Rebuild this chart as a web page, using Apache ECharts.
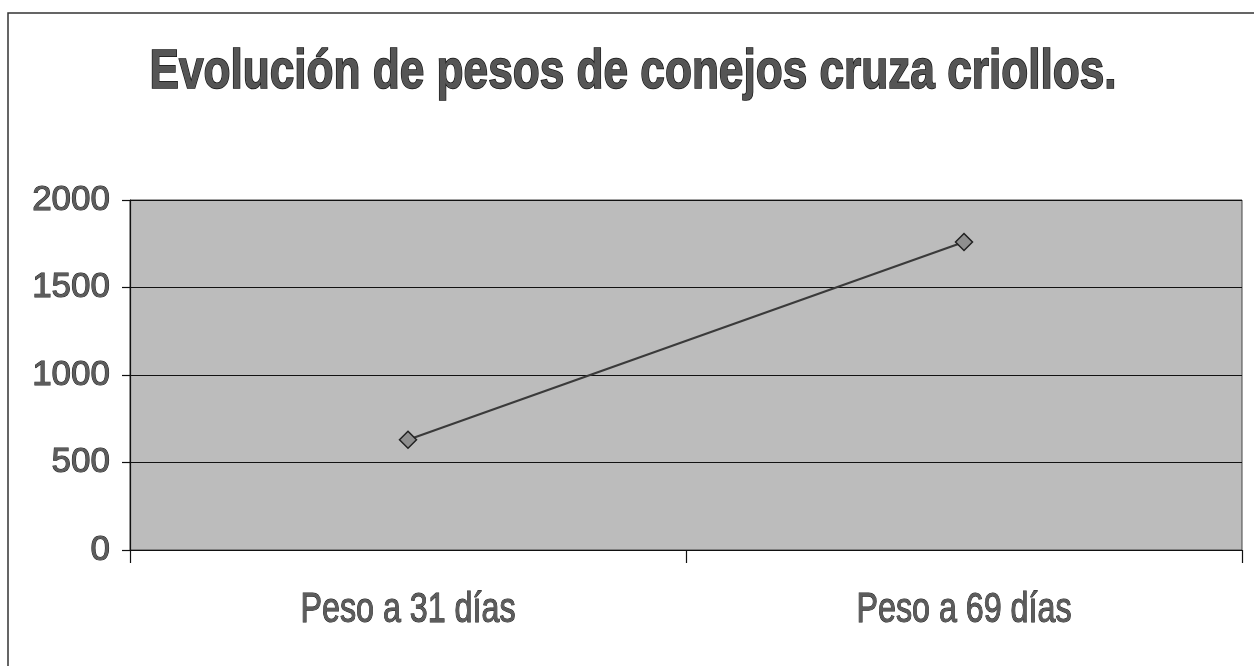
<!DOCTYPE html>
<html>
<head>
<meta charset="utf-8">
<script src="https://cdn.jsdelivr.net/npm/echarts@6/dist/echarts.min.js"></script>
<style>
  html, body { margin: 0; padding: 0; background: #fff; }
  #chart { width: 1254px; height: 666px; }
</style>
</head>
<body>
<div id="chart"></div>
<script>
// Rabbit weights (g) at two ages
const titleText = 'Evolución de pesos de conejos cruza criollos.';
const categories = ['Peso a 31 días', 'Peso a 69 días'];
const pesos = [630, 1760];
const yMin = 0, yMax = 2000, yStep = 500;

const baseFont = "'Liberation Sans', Arial, sans-serif";

// condensed lettering: measure the natural width, then squeeze horizontally
function measure(text, font) {
  const c = document.createElement('canvas').getContext('2d');
  c.font = font;
  return c.measureText(text).width;
}
const titleSize = 56;
const titleFontStr = 'bold ' + titleSize + 'px ' + baseFont;
const titleScale = 967 / measure(titleText, titleFontStr);

const catSize = 42;
const catFontStr = catSize + 'px ' + baseFont;
const catScale = 215 / measure(categories[0], catFontStr);

const chart = echarts.init(document.getElementById('chart'), null, { renderer: 'canvas' });

const frameAndTitle = [
  {
    type: 'polyline',
    shape: { points: [[8, 666], [8, 13], [1254, 13]] },
    style: { stroke: '#333', lineWidth: 1.5, fill: null },
    silent: true
  },
  {
    type: 'text',
    x: 633, y: 73,
    scaleX: titleScale,
    style: {
      text: titleText,
      font: titleFontStr,
      fill: '#555555',
      stroke: '#151515',
      lineWidth: 1.6,
      align: 'center',
      verticalAlign: 'middle'
    },
    silent: true
  }
];

chart.setOption({
  backgroundColor: '#ffffff',
  animation: false,
  grid: {
    left: 130, right: 12, top: 200, bottom: 116,
    show: true,
    backgroundColor: '#bcbcbc',
    borderColor: '#444',
    borderWidth: 1
  },
  graphic: frameAndTitle,
  xAxis: {
    type: 'category',
    data: categories,
    boundaryGap: true,
    axisLine: { lineStyle: { color: '#111', width: 1.2 } },
    axisTick: { show: true, length: 13, inside: false, lineStyle: { color: '#111', width: 1.2 } },
    axisLabel: { show: false },
    splitLine: { show: false }
  },
  yAxis: {
    type: 'value',
    min: yMin, max: yMax, interval: yStep,
    axisLine: { show: true, lineStyle: { color: '#111', width: 1.2 } },
    axisTick: { show: true, length: 8, inside: false, lineStyle: { color: '#111', width: 1.2 } },
    axisLabel: {
      margin: 20,
      fontSize: 35,
      fontFamily: baseFont,
      color: '#5c5c5c',
      textBorderColor: '#222',
      textBorderWidth: 1,
      formatter: v => String(v)
    },
    splitLine: { show: true, lineStyle: { color: '#111', width: 1.2 } }
  },
  series: [
    {
      type: 'line',
      data: pesos,
      symbol: 'diamond',
      symbolSize: 17,
      itemStyle: { color: '#8f8f8f', borderColor: '#222', borderWidth: 1.5 },
      lineStyle: { color: '#3a3a3a', width: 2.2 },
      z: 5
    }
  ]
});

// category names, placed under each category through the x axis scale
const yBase = chart.convertToPixel({ yAxisIndex: 0 }, yMin);
const catLabels = categories.map(c => ({
  type: 'text',
  x: chart.convertToPixel({ xAxisIndex: 0 }, c),
  y: yBase + 60,
  scaleX: catScale,
  style: {
    text: c,
    font: catFontStr,
    fill: '#5c5c5c',
    stroke: '#222',
    lineWidth: 1,
    align: 'center',
    verticalAlign: 'middle'
  },
  silent: true
}));
chart.setOption({ graphic: frameAndTitle.concat(catLabels) });
</script>
</body>
</html>
